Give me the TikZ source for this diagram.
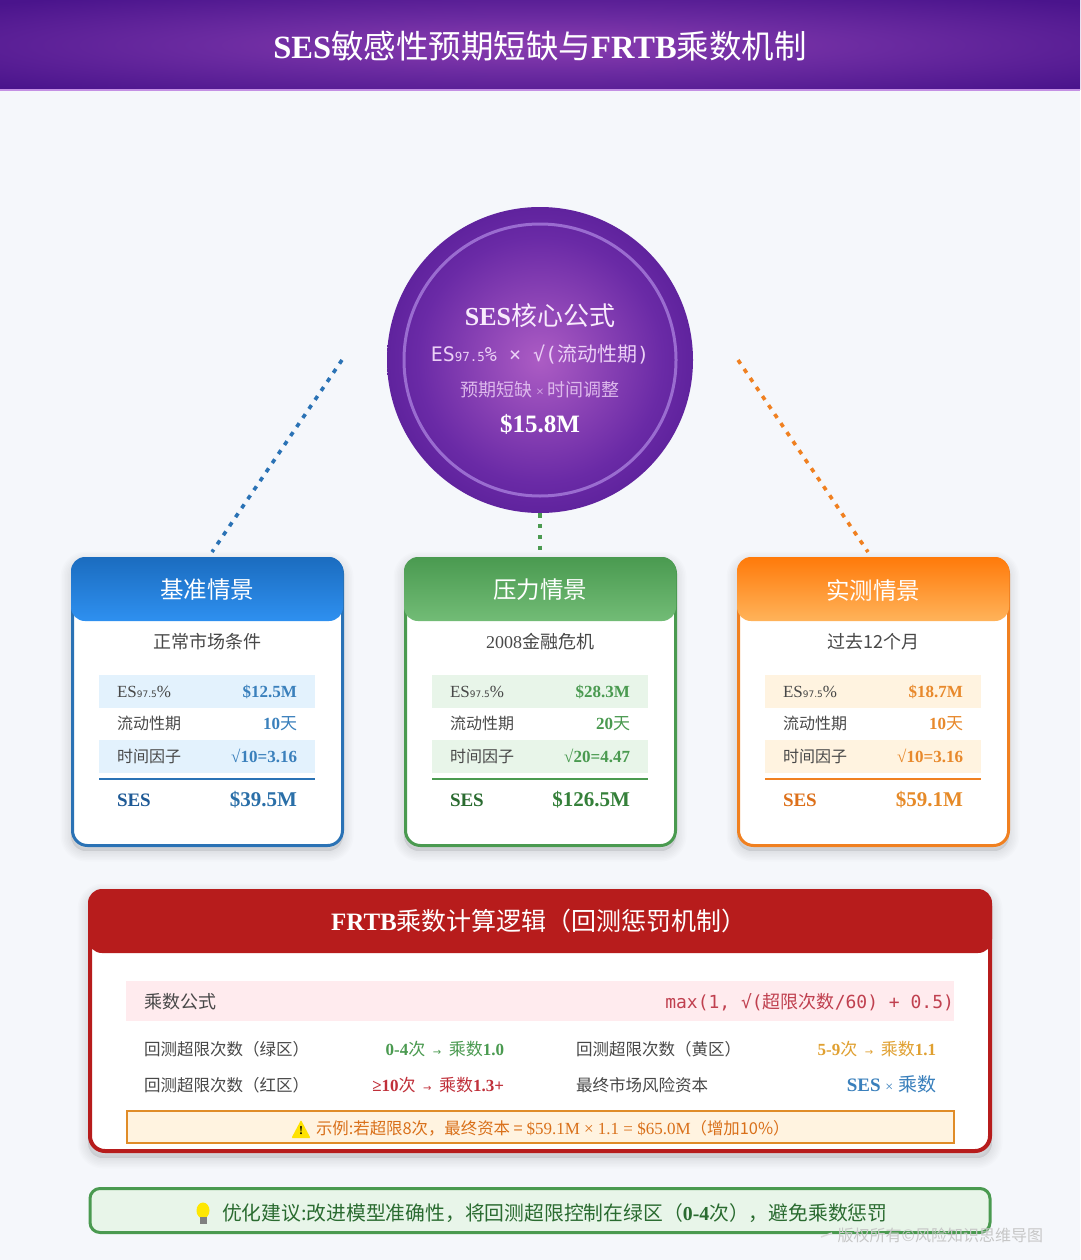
\documentclass[tikz,border=0pt]{standalone}
\usepackage{fontspec}
\setmainfont{Liberation Serif}
\newfontfamily\cjfont{Noto Sans CJK SC}
\newfontfamily\monofont{DejaVu Sans Mono}
\newfontfamily\sansfont{DejaVu Sans}
\newcommand\cj[1]{{\cjfont\mdseries #1}}
\newcommand\fsz[1]{\fontsize{#1}{#1}\selectfont}
\definecolor{pagebg}{HTML}{F5F7FB}
\definecolor{bandc}{HTML}{8A3DB0}
\definecolor{bandm}{HTML}{6A2AA0}
\definecolor{bande}{HTML}{4A148C}
\definecolor{bandline}{HTML}{C490E4}
\definecolor{corea}{HTML}{AC5CC4}
\definecolor{coreb}{HTML}{6A2AA6}
\definecolor{corec}{HTML}{4A148C}
\definecolor{corering}{HTML}{9A6CD0}
\definecolor{coretext}{HTML}{F8EAFC}
\definecolor{coreform}{HTML}{EBD0F6}
\definecolor{coresub}{HTML}{DDB8EC}
% blue
\definecolor{bluemain}{HTML}{2A72B5}
\definecolor{bluetop}{HTML}{1B6CBF}
\definecolor{bluebot}{HTML}{2E90F0}
\definecolor{bluerow}{HTML}{E3F2FD}
\definecolor{blueval}{HTML}{3A80BC}
\definecolor{bluesesl}{HTML}{1F5A96}
\definecolor{bluesesv}{HTML}{2A6FA8}
% green
\definecolor{greenmain}{HTML}{4A9A50}
\definecolor{greentop}{HTML}{4A9A50}
\definecolor{greenbot}{HTML}{72BC76}
\definecolor{greenrow}{HTML}{E8F5E9}
\definecolor{greenval}{HTML}{4A9A50}
\definecolor{greensesl}{HTML}{2A6B30}
\definecolor{greensesv}{HTML}{35803A}
% orange
\definecolor{orangemain}{HTML}{F08020}
\definecolor{orangetop}{HTML}{FF7A0A}
\definecolor{orangebot}{HTML}{FFB35A}
\definecolor{orangerow}{HTML}{FFF3E0}
\definecolor{orangeval}{HTML}{E8892C}
\definecolor{orangesesl}{HTML}{DD701A}
\definecolor{orangesesv}{HTML}{E68A28}
% other
\definecolor{redmain}{HTML}{B71C1C}
\definecolor{redrow}{HTML}{FFEBEE}
\definecolor{redmono}{HTML}{C0404F}
\definecolor{labelc}{HTML}{484848}
\definecolor{warnbg}{HTML}{FFF3E0}
\definecolor{warnline}{HTML}{E08C28}
\definecolor{warntext}{HTML}{D9701A}
\definecolor{tipbg}{HTML}{E8F5E9}
\definecolor{tiptext}{HTML}{2A6B30}
\definecolor{ambertext}{HTML}{E0A030}
\definecolor{redtext}{HTML}{C0303A}
\pgfdeclareradialshading{bandglow}{\pgfpoint{0bp}{0bp}}{color(0bp)=(bandc); color(16bp)=(bandm); color(34bp)=(bande); color(50bp)=(bande)}
\pgfdeclareradialshading{coreglow}{\pgfpoint{0bp}{0bp}}{color(0bp)=(corea); color(20bp)=(coreb); color(35.4bp)=(corec); color(50bp)=(corec)}
\tikzset{
  x=1pt,y=-1pt,
  every node/.style={inner sep=0pt,outer sep=0pt},
  lbl/.style={anchor=base west,text=labelc},
  valr/.style={anchor=base east,font=\bfseries},
  cardbox/.style={draw,line width=3pt,fill=white,rounded corners=15pt,anchor=north west,minimum width=270pt,minimum height=287pt},
  cardhead/.style={rounded corners=14pt,anchor=north west,minimum width=272pt,minimum height=64pt},
  rowbox/.style={anchor=north west,minimum width=216pt,minimum height=32.5pt},
  link/.style={line width=3.6pt,dash pattern=on 4.5pt off 6.4pt},
}
\newcommand\softshadow[5]{% x1 y1 x2 y2 radius
  \foreach \i in {1,...,7}{
    \draw[black,opacity=.012,fill=black,fill opacity=.012,line width=\i*3pt,rounded corners=#5pt]
      (#1,#2+5) rectangle (#3,#4+5);
  }}
\newcommand\ninesev[1]{#1{\sansfont\fsz{9}97.5}\%}
\newcommand\arr{\hspace{7.5pt}{\fsz{10}\sansfont\mdseries →}\hspace{7.5pt}}
\newcommand\scenario[9]{% x, prefix, node, title, subtitle, es, days, factor, ses
  \softshadow{#1}{557}{#1+272}{846}{15}
  \node[cardbox,draw=#2main] (#3) at (#1+1.5,558.5) {};
  \node[cardhead,top color=#2top,bottom color=#2bot,draw=none] (#3head) at (#1,557) {};
  \node[text=white,font=\fsz{23.5}] (#3title) at (#1+136,590) {\cj{#4}};
  \node[text=labelc,font=\fsz{18}] (#3sub) at (#1+136,642) {#5};
  \node[rowbox,fill=#2row] (#3r1) at (#1+28,675) {};
  \node[rowbox,fill=#2row] (#3r3) at (#1+28,740) {};
  \node[lbl,font=\fsz{17}] (#3la) at (#1+46,697) {\ninesev{ES}};
  \node[valr,text=#2val,font=\fsz{17}\bfseries] (#3va) at (#1+226,697) {#6};
  \node[lbl,font=\fsz{16}] (#3lb) at (#1+46,729) {\cj{流动性期}};
  \node[valr,text=#2val,font=\fsz{17}\bfseries] (#3vb) at (#1+226,729) {#7};
  \node[lbl,font=\fsz{16}] (#3lc) at (#1+46,762) {\cj{时间因子}};
  \node[valr,text=#2val,font=\fsz{17}\bfseries] (#3vc) at (#1+226,762) {#8};
  \draw[#2main,line width=2pt] (#1+28,779) -- (#1+244,779);
  \node[anchor=base west,text=#2sesl,font=\fsz{19}\bfseries] (#3ls) at (#1+46,806) {SES};
  \node[valr,text=#2sesv,font=\fsz{21}\bfseries] (#3vs) at (#1+226,806) {#9};
}
\begin{document}
\begin{tikzpicture}
\useasboundingbox (0,0) rectangle (1080,1260);
\fill[pagebg] (0,0) rectangle (1080,1260);
% title band
\node[anchor=north west,minimum width=1080pt,minimum height=90pt,shading=bandglow] (band) at (0,0) {};
\draw[bandline,line width=1.2pt] (band.south west) -- (band.south east);
\node[text=white,font=\fsz{32.5}\bfseries] (title) at (540,46) {SES\cj{敏感性预期短缺与}FRTB\cj{乘数机制}};

% cards
\scenario{71}{blue}{base}{基准情景}{\cj{正常市场条件}}{\$12.5M}{10\cj{天}}{\char"221A 10=3.16}{\$39.5M}
\scenario{404}{green}{stress}{压力情景}{2008\cj{金融危机}}{\$28.3M}{20\cj{天}}{\char"221A 20=4.47}{\$126.5M}
\scenario{737}{orange}{real}{实测情景}{\cj{过去12个月}}{\$18.7M}{10\cj{天}}{\char"221A 10=3.16}{\$59.1M}

% core circle
\node[circle,minimum size=306pt,shading=coreglow] (core) at (540,360) {};
\draw[corering,line width=3pt] (core.center) circle (136);
\node[text=coretext,font=\fsz{26}\bfseries] (coret) at (540,316) {SES\cj{核心公式}};
\node[text=coreform,font=\fsz{20}] (coref) at (540,354) {{\monofont ES{\fsz{12.5}97.5}\% × \char"221A(}\cj{流动性期}{\monofont )}};
\node[text=coresub,font=\fsz{18}] (cores) at (540,390) {\cj{预期短缺}{\fsz{14} × }\cj{时间调整}};
\node[text=white,font=\fsz{25}\bfseries] (corev) at (540,424) {\$15.8M};

% connectors
\coordinate (blueend) at (212,552);
\coordinate (blueout) at (342,360);
\coordinate (greenend) at (540,552);
\coordinate (orangeend) at (868,552);
\coordinate (orangeout) at (738,360);
\draw[link,bluemain] (blueout) -- (blueend);
\draw[link,greenmain] (core.south) -- (greenend);
\draw[link,orangemain] (orangeout) -- (orangeend);

% FRTB panel
\softshadow{88}{889}{992}{1153}{15}
\node[draw=redmain,line width=4pt,fill=white,rounded corners=15pt,anchor=north west,minimum width=900pt,minimum height=260pt] (frtb) at (90,891) {};
\node[fill=redmain,rounded corners=14pt,anchor=north west,minimum width=904pt,minimum height=64pt] (frtbhead) at (88,889) {};
\node[text=white,font=\fsz{25}\bfseries] (frtbtitle) at (539,921) {FRTB\cj{乘数计算逻辑（回测惩罚机制）}};
\node[fill=redrow,anchor=north west,minimum width=828pt,minimum height=40pt] (mrow) at (126,981) {};
\node[lbl,font=\fsz{18}] (mlab) at (144,1008) {\cj{乘数公式}};
\node[anchor=base east,text=redmono,font=\fsz{18}] (mval) at (954,1008) {{\monofont max(1, \char"221A(}\cj{超限次数}{\monofont /60) + 0.5)}};
\node[lbl,font=\fsz{16.5}] (g1) at (144,1055) {\cj{回测超限次数（绿区）}};
\node[valr,text=greenmain,font=\fsz{17}\bfseries] (g2) at (504,1055) {0-4\cj{次}\arr\cj{乘数}1.0};
\node[lbl,font=\fsz{16.5}] (y1) at (576,1055) {\cj{回测超限次数（黄区）}};
\node[valr,text=ambertext,font=\fsz{17}\bfseries] (y2) at (936,1055) {5-9\cj{次}\arr\cj{乘数}1.1};
\node[lbl,font=\fsz{16.5}] (r1) at (144,1091) {\cj{回测超限次数（红区）}};
\node[valr,text=redtext,font=\fsz{17}\bfseries] (r2) at (504,1091) {≥10\cj{次}\arr\cj{乘数}1.3+};
\node[lbl,font=\fsz{16.5}] (c1) at (576,1091) {\cj{最终市场风险资本}};
\node[valr,text=blueval,font=\fsz{19}\bfseries] (c2) at (936,1091) {SES {\fsz{14}\mdseries ×} \cj{乘数}};
\node[draw=warnline,line width=2pt,fill=warnbg,anchor=north west,minimum width=827pt,minimum height=32pt] (warn) at (126.5,1110.5) {};
\fill[yellow!85!orange,rounded corners=1pt] (291.5,1138) -- (301,1120) -- (310.5,1138) -- cycle;
\node[text=black,font=\fsz{12}\bfseries] (warnmark) at (301,1131) {!};
\node[anchor=base west,text=warntext,font=\fsz{17}] (warntxt) at (316,1134) {{\fsz{16.4}\cj{示例:若超限8次，最终资本 = }}\$59.1M × 1.1 = \$65.0M{\fsz{16.4}\cj{（增加10\%）}}};

% tip
\node[draw=greenmain,line width=3pt,fill=tipbg,rounded corners=10pt,anchor=north west,minimum width=900pt,minimum height=44pt] (tip) at (90,1188.5) {};
\fill[yellow!90!orange] (203,1210.5) ellipse (6.5 and 8);
\fill[gray] (199.5,1217) rectangle (206.5,1224);
\node[anchor=base west,text=tiptext,font=\fsz{19.8}] (tiptxt) at (222,1220) {\cj{优化建议:改进模型准确性，将回测超限控制在绿区（}\textbf{0-4}\cj{次），避免乘数惩罚}};
\node[anchor=base east,text=black!22,font=\fsz{16}] (wm) at (1043,1241) {\cj{版权所有©风险知识思维导图}};
\draw[black!15,line width=1.5pt] (821,1237) -- (832,1233);
\end{tikzpicture}
\end{document}
